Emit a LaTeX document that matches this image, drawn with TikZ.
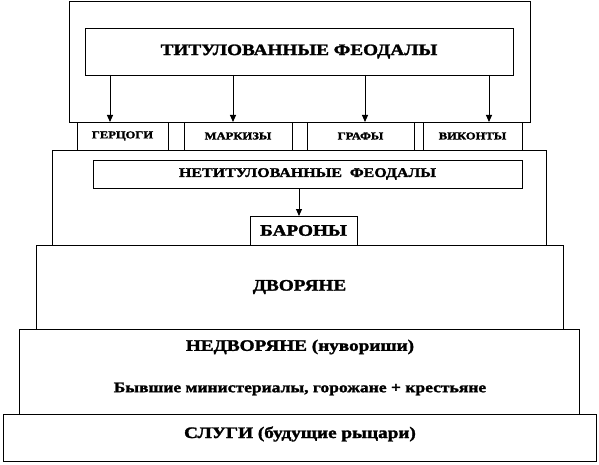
\documentclass[tikz,border=0pt]{standalone}
\usepackage{fontspec}
\setmainfont{Liberation Serif}[FakeStretch=1.2,BoldFeatures={FakeBold=1.8}]
\usetikzlibrary{arrows.meta,calc}

\begin{document}
\begin{tikzpicture}[x=1pt,y=-1pt,
         box/.style = {draw,line width=0.9pt,rectangle,inner sep=0pt,outer sep=0pt,
            anchor=north west,font=\bfseries},
         feed/.style = {line width=0.9pt,-{Triangle[length=7pt,width=6pt]}}
]
   \useasboundingbox (0,0) rectangle (599,465);

   % titled feudal lords
   \node[box,minimum width=461pt,minimum height=121pt] (upper) at (69,1) {};
   \node[box,minimum width=428pt,minimum height=47pt,font=\bfseries\fontsize{16}{18}\selectfont]
      (title) at (85,28) {ТИТУЛОВАННЫЕ ФЕОДАЛЫ};
   \node[box,minimum width=91pt,minimum height=28pt,font=\bfseries\fontsize{10.5}{13}\selectfont]
      (gercogi) at (77,122) {ГЕРЦОГИ};
   \node[box,minimum width=16pt,minimum height=28pt] (gap1) at (168,122) {};
   \node[box,minimum width=108pt,minimum height=28pt,font=\bfseries\fontsize{10.5}{13}\selectfont]
      (markizy) at (184,122) {МАРКИЗЫ};
   \node[box,minimum width=15pt,minimum height=28pt] (gap2) at (292,122) {};
   \node[box,minimum width=107pt,minimum height=28pt,font=\bfseries\fontsize{10.5}{13}\selectfont]
      (grafy) at (307,122) {ГРАФЫ};
   \node[box,minimum width=9pt,minimum height=28pt] (gap3) at (414,122) {};
   \node[box,minimum width=99pt,minimum height=28pt,font=\bfseries\fontsize{10.5}{13}\selectfont]
      (vikonty) at (423,122) {ВИКОНТЫ};

   \coordinate (t1) at (110,122);
   \coordinate (t2) at (233,122);
   \coordinate (t3) at (365,122);
   \coordinate (t4) at (489,122);
   \foreach \t in {t1,t2,t3,t4}
      \draw[feed] (title.south -| \t) -- (\t);

   % untitled feudal lords
   \node[box,minimum width=494pt,minimum height=95pt] (middle) at (52,150) {};
   \node[box,minimum width=429pt,minimum height=28pt,font=\bfseries\fontsize{13.3}{16}\selectfont]
      (untitled) at (93,160) {НЕТИТУЛОВАННЫЕ\ \ ФЕОДАЛЫ};
   \node[box,minimum width=107pt,minimum height=29pt,font=\bfseries\fontsize{16}{18}\selectfont]
      (barony) at (250,216) {БАРОНЫ};
   \coordinate (t5) at (299,216);
   \draw[feed] (untitled.south -| t5) -- (t5);

   % lower levels
   \node[box,minimum width=527pt,minimum height=84pt,font=\bfseries\fontsize{16}{18}\selectfont]
      (dvoryane) at (36,245) {ДВОРЯНЕ};
   \node[box,minimum width=560pt,minimum height=85pt] (nedvoryane) at (19,329) {};
   \node[font=\bfseries\fontsize{16}{18}\selectfont] (nedv) at (300,347) {НЕДВОРЯНЕ (нувориши)};
   \node[font=\bfseries\fontsize{14.6}{17}\selectfont] (byvshie) at (300,389)
      {Бывшие министериалы, горожане + крестьяне};
   \node[box,minimum width=593pt,minimum height=47pt] (slugi) at (3,414) {};
   \node[font=\bfseries\fontsize{16}{18}\selectfont] (slugitext) at (300,434) {СЛУГИ (будущие рыцари)};
\end{tikzpicture}
\end{document}
